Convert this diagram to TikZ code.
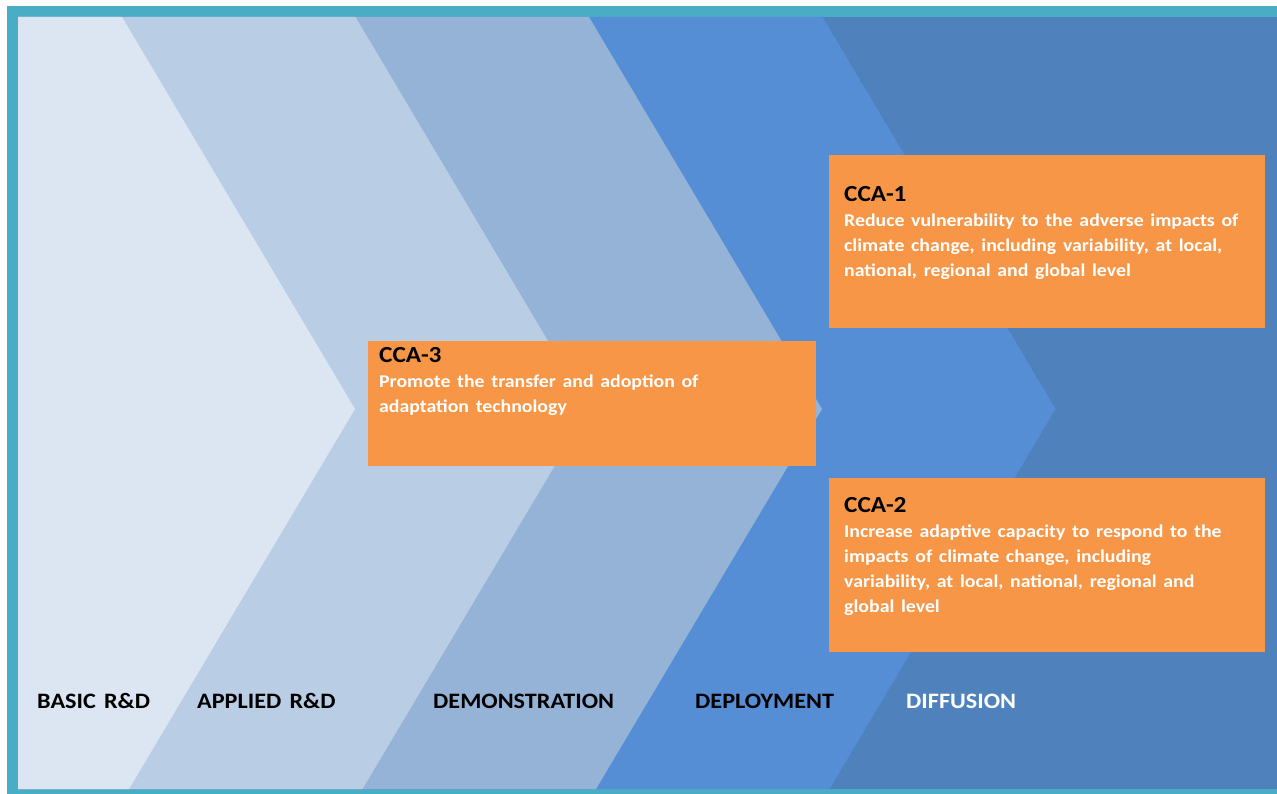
\documentclass[tikz,border=0pt]{standalone}
\usepackage{fontspec}
\setmainfont{Carlito}[FakeStretch=1.1,WordSpace=1.5]
\usepackage{tikz}
\usetikzlibrary{positioning}

\definecolor{frame}{HTML}{4BACC6}
\definecolor{ph1}{HTML}{DCE6F2}
\definecolor{ph2}{HTML}{B9CDE5}
\definecolor{ph3}{HTML}{95B3D7}
\definecolor{ph4}{HTML}{558ED5}
\definecolor{ph5}{HTML}{4F81BD}
\definecolor{cca}{HTML}{F79646}

\begin{document}
\begin{tikzpicture}[x=1pt,y=-1pt,
  b/.style={rectangle,fill=cca,inner sep=0pt,anchor=north west},
  t/.style={inner sep=0pt,anchor=north west,align=left,text=white,font=\bfseries\fontsize{18}{25}\selectfont},
  lab/.style={inner sep=0pt,anchor=base west,font=\bfseries\fontsize{22}{24}\selectfont}]
  \useasboundingbox (0,0) rectangle (1277,794);
  \fill[frame] (7,6) rectangle (1290,800);
  \fill[ph5] (18,17) rectangle (1277,789);
  % phases, right to left
  \foreach \tip/\col in {1055.5/ph4,822/ph3,588.5/ph2,355/ph1}
    \fill[\col] (18,17) -- ({\tip-233},17) -- (\tip,409) -- ({\tip-226},789) -- (18,789) -- cycle;

  \node[b,minimum width=436pt,minimum height=173pt] (c1) at (829,155) {};
  \node[b,minimum width=436pt,minimum height=174pt] (c2) at (829,478) {};
  \node[b,minimum width=448pt,minimum height=125pt] (c3) at (368,341) {};

  \node[t] (t1) at ([xshift=15pt,yshift=-31pt]c1.north west) {{\color{black}\fontsize{23}{25}\selectfont CCA-1}\\Reduce vulnerability to the adverse impacts of\\climate change, including variability, at local,\\national, regional and global level};
  \node[t] (t2) at ([xshift=15pt,yshift=-19pt]c2.north west) {{\color{black}\fontsize{23}{25}\selectfont CCA-2}\\Increase adaptive capacity to respond to the\\impacts of climate change, including\\variability, at local, national, regional and\\global level};
  \node[t] (t3) at ([xshift=11pt,yshift=-6pt]c3.north west) {{\color{black}\fontsize{23}{25}\selectfont CCA-3}\\Promote the transfer and adoption of\\adaptation technology};

  \node[lab] (l1) at (37,708) {BASIC R\&D};
  \node[lab] (l2) at (197,708) {APPLIED R\&D};
  \node[lab] (l3) at (433,708) {DEMONSTRATION};
  \node[lab] (l4) at (695,708) {DEPLOYMENT};
  \node[lab,text=white] (l5) at (906,708) {DIFFUSION};
\end{tikzpicture}
\end{document}
